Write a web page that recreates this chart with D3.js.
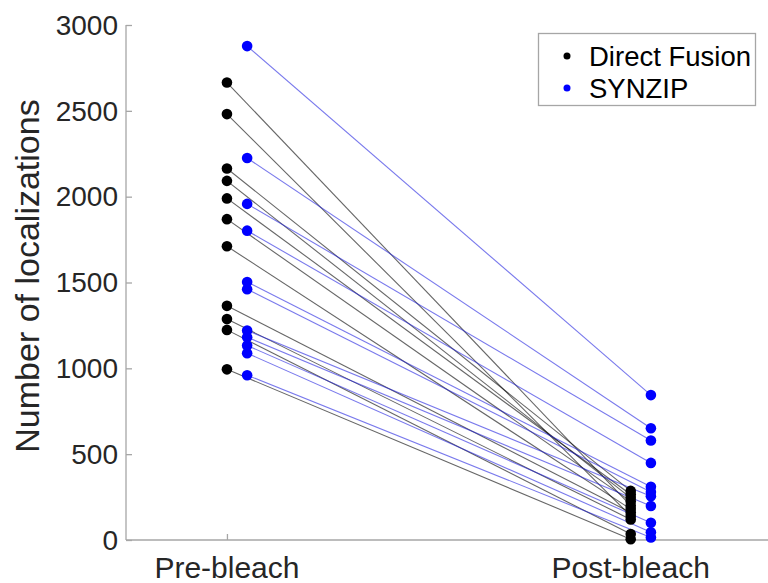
<!DOCTYPE html>
<html>
<head>
<meta charset="utf-8">
<script src="https://cdn.jsdelivr.net/npm/d3@7"></script>
<style>
  body { margin: 0; background: #fff; }
  svg { display: block; font-family: 'Liberation Sans', Arial, Helvetica, sans-serif; }
</style>
</head>
<body>
<svg id="chart"></svg>
<script>
const categories = ['Pre-bleach', 'Post-bleach']
const yTicks = [0, 500, 1000, 1500, 2000, 2500, 3000]

// Each pair is [pre, post]
const directFusionPre = [2665, 2481, 2164, 2092, 1990, 1869, 1711, 1364, 1287, 1224, 994]
const directFusionPost = [200, 140, 286, 245, 265, 225, 180, 160, 120, 35, 5]
const synzipPre = [2877, 2225, 1958, 1802, 1503, 1461, 1220, 1181, 1133, 1088, 960]
const synzipPost = [844, 651, 580, 449, 310, 280, 255, 198, 100, 45, 15]

const series = [
  { name: 'Direct Fusion', pre: directFusionPre, post: directFusionPost, color: '#000000', line: '#000000', offset: 0 },
  { name: 'SYNZIP', pre: synzipPre, post: synzipPost, color: '#0000ff', line: '#2020e0', offset: 0.05 }
]

const width = 768
const height = 583

const svg = d3.select('#chart').attr('width', width).attr('height', height)

const x = d3.scaleLinear().domain([0.75, 2.34]).range([126, 768])
const y = d3.scaleLinear().domain([0, 3000]).range([540, 25])

const axisColor = '#a6a6a6'
const textColor = '#262626'

// Axes
const yAxis = svg.append('g')
  .attr('transform', `translate(${x(0.75)},0)`)
  .call(d3.axisRight(y).tickValues(yTicks).tickSize(6).tickFormat(''))
yAxis.select('.domain').attr('stroke', axisColor).attr('stroke-width', 1.3).attr('d', `M0,${y(3000)}V${y(0)}`)
yAxis.selectAll('.tick line').attr('stroke', axisColor).attr('stroke-width', 1.3)

svg.append('g')
  .selectAll('text')
  .data(yTicks)
  .enter()
  .append('text')
  .attr('x', 118)
  .attr('y', d => y(d))
  .attr('dy', '0.35em')
  .attr('text-anchor', 'end')
  .attr('fill', textColor)
  .style('font-size', '28px')
  .text(d => d)

const xAxis = svg.append('g')
  .attr('transform', `translate(0,${y(0)})`)
  .call(d3.axisTop(x).tickValues([1, 2]).tickSize(6).tickFormat(''))
xAxis.select('.domain').attr('stroke', axisColor).attr('stroke-width', 1.3).attr('d', `M${x(0.75)},0H${x(2.34)}`)
xAxis.selectAll('.tick line').attr('stroke', axisColor).attr('stroke-width', 1.3)

svg.append('g')
  .selectAll('text')
  .data(categories)
  .enter()
  .append('text')
  .attr('x', (d, i) => x(i + 1))
  .attr('y', 578)
  .attr('text-anchor', 'middle')
  .attr('fill', textColor)
  .style('font-size', '30px')
  .text(d => d)

svg.append('text')
  .attr('transform', `translate(39,276) rotate(-90)`)
  .attr('text-anchor', 'middle')
  .attr('fill', textColor)
  .style('font-size', '34px')
  .text('Number of localizations')

// Connecting lines
series.forEach(s => {
  svg.append('g')
    .selectAll('line')
    .data(s.pre.map((v, i) => [v, s.post[i]]))
    .enter()
    .append('line')
    .attr('x1', x(1 + s.offset))
    .attr('x2', x(2 + s.offset))
    .attr('y1', d => y(d[0]))
    .attr('y2', d => y(d[1]))
    .attr('stroke', s.line)
    .attr('stroke-opacity', 0.6)
    .attr('stroke-width', 1.1)
})

// Points
series.forEach(s => {
  const g = svg.append('g')
  g.selectAll('circle.pre')
    .data(s.pre)
    .enter()
    .append('circle')
    .attr('class', 'pre')
    .attr('cx', x(1 + s.offset))
    .attr('cy', d => y(d))
    .attr('r', 5.3)
    .attr('fill', s.color)
  g.selectAll('circle.post')
    .data(s.post)
    .enter()
    .append('circle')
    .attr('class', 'post')
    .attr('cx', x(2 + s.offset))
    .attr('cy', d => y(d))
    .attr('r', 5.3)
    .attr('fill', s.color)
})

// Legend
const legend = svg.append('g')
legend.append('rect')
  .attr('x', 538.5)
  .attr('y', 33.5)
  .attr('width', 217)
  .attr('height', 72)
  .attr('fill', '#fff')
  .attr('stroke', axisColor)
  .attr('stroke-width', 1.3)

series.forEach((s, i) => {
  const ly = 56 + i * 32
  legend.append('circle')
    .attr('cx', 567)
    .attr('cy', ly)
    .attr('r', 3.5)
    .attr('fill', s.color)
  legend.append('text')
    .attr('x', 589)
    .attr('y', ly)
    .attr('dy', '0.35em')
    .attr('fill', '#000')
    .style('font-size', '27.5px')
    .text(s.name)
})
</script>
</body>
</html>
